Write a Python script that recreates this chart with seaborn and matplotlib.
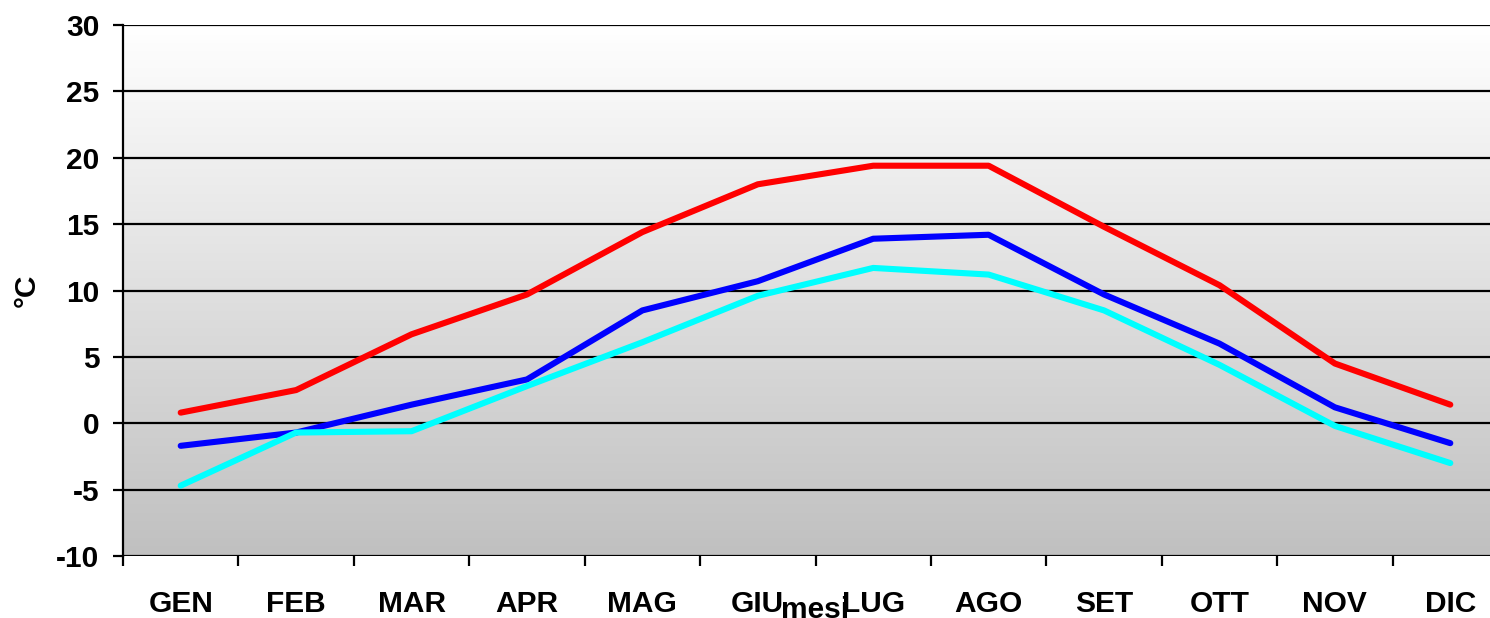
import numpy as np
import pandas as pd
import matplotlib
matplotlib.use("Agg")
import matplotlib.pyplot as plt
import seaborn as sns

months = ["GEN", "FEB", "MAR", "APR", "MAG", "GIU", "LUG", "AGO", "SET", "OTT", "NOV", "DIC"]
t_max = [0.8, 2.5, 6.7, 9.7, 14.4, 18.0, 19.4, 19.4, 14.8, 10.4, 4.5, 1.4]
t_med = [-1.7, -0.7, 1.4, 3.3, 8.5, 10.7, 13.9, 14.2, 9.7, 6.0, 1.2, -1.5]
t_min = [-4.7, -0.7, -0.6, 2.8, 6.1, 9.6, 11.7, 11.2, 8.5, 4.4, -0.2, -3.0]
series_names = ["max", "med", "min"]
series_colors = {"max": "#FF0000", "med": "#0000FF", "min": "#00FFFF"}
y_ticks = [-10, -5, 0, 5, 10, 15, 20, 25, 30]

df = pd.DataFrame({
    "x": list(range(len(months))) * 3,
    "mese": months * 3,
    "val": t_max + t_med + t_min,
    "serie": ["max"] * 12 + ["med"] * 12 + ["min"] * 12,
})

sns.set_style("white")
plt.rcParams["font.family"] = ["Liberation Sans", "DejaVu Sans"]
plt.rcParams["font.weight"] = "bold"
plt.rcParams["text.color"] = "black"
plt.rcParams["axes.labelcolor"] = "black"
plt.rcParams["xtick.color"] = "black"
plt.rcParams["ytick.color"] = "black"

W, H = 1490, 618
fig = plt.figure(figsize=(W / 100, H / 100), dpi=100)
left, right, top, bottom = 123, 1508, 25, 556
ax = fig.add_axes([left / W, (H - bottom) / H, (right - left) / W, (bottom - top) / H])

# gradient background (white at top, grey at bottom)
grad = np.linspace(0, 1, 256).reshape(-1, 1)
cmap = matplotlib.colors.LinearSegmentedColormap.from_list("g", ["#FFFFFF", "#C0C0C0"])
ax.imshow(grad, extent=[-0.5, 11.5, -10, 30], aspect="auto", cmap=cmap, zorder=0,
          origin="upper")

for yv in y_ticks:
    ax.axhline(yv, color="black", lw=1.6, zorder=1)

sns.lineplot(data=df, x="x", y="val", hue="serie", hue_order=series_names,
             palette=series_colors, lw=4.4, legend=False, ax=ax, zorder=3)

ax.set_xlim(-0.5, 11.5)
ax.set_ylim(-10, 30)
ax.set_yticks(y_ticks)
ax.set_yticklabels([str(v) for v in y_ticks], fontsize=21.5, fontweight="bold", color="black")
ax.set_xticks(range(12))
ax.set_xticklabels(months, fontsize=21.5, fontweight="bold", color="black")
ax.set_xticks(np.arange(-0.5, 12, 1), minor=True)
ax.tick_params(axis="x", which="major", length=0, pad=24.5)
ax.tick_params(axis="x", which="minor", length=7, width=1.6, color="black", direction="out")
ax.tick_params(axis="y", which="major", length=7, width=1.6, color="black", direction="out", pad=10)
ax.yaxis.set_ticks_position("left")
ax.xaxis.set_ticks_position("bottom")

for s in ["top", "right", "bottom"]:
    ax.spines[s].set_visible(False)
ax.spines["left"].set_color("black")
ax.spines["left"].set_linewidth(1.6)
ax.spines["left"].set_zorder(4)

ax.set_ylabel("°C", fontsize=21.5, fontweight="bold", labelpad=11, color="black")
ax.set_xlabel("mesi", fontsize=21.5, fontweight="bold", color="black")
ax.xaxis.label.set_va("baseline")
ax.xaxis.set_label_coords(0.5, -0.116)

fig.savefig("out.png", dpi=100)
